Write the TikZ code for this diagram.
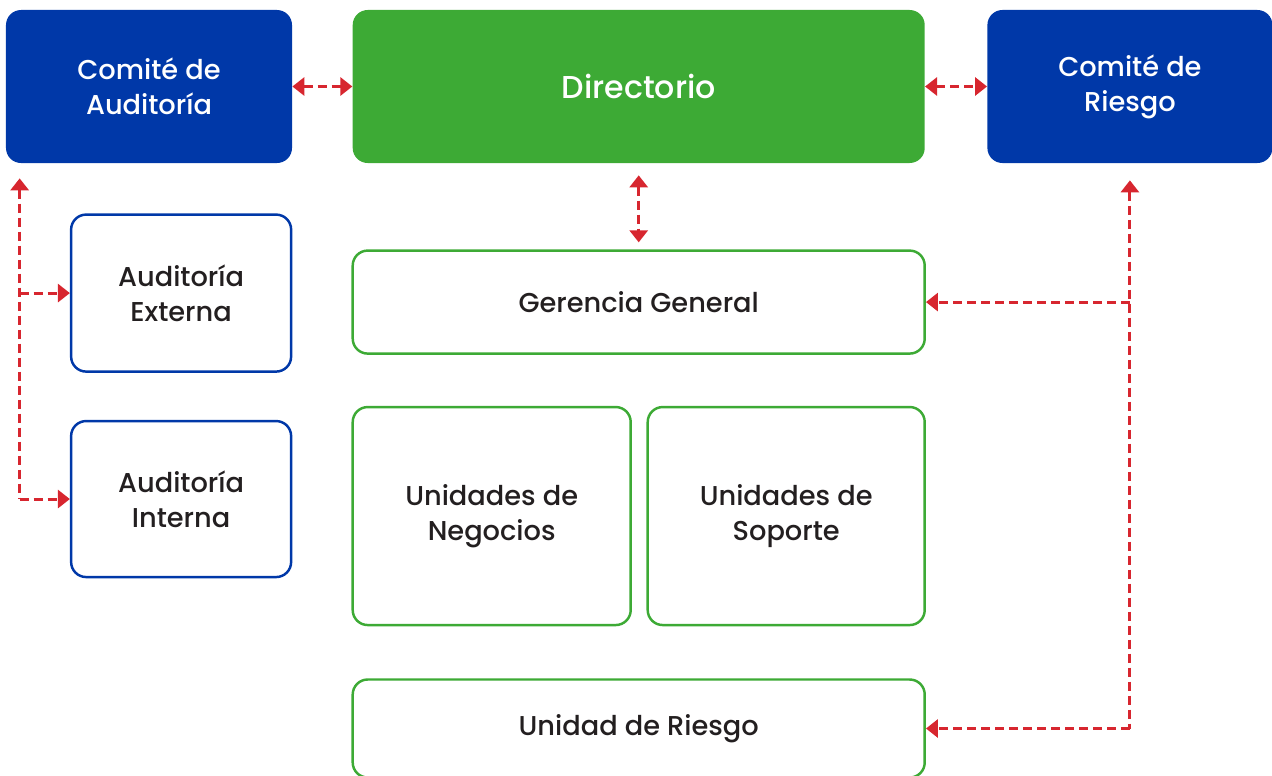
\documentclass[tikz,border=0pt]{standalone}
\usepackage{fontspec}
\setmainfont{Poppins Medium}
\usetikzlibrary{positioning,arrows.meta,calc}

\definecolor{azul}{HTML}{0038A8}
\definecolor{verde}{HTML}{3DAA35}
\definecolor{rojo}{HTML}{D7262F}
\definecolor{texto}{HTML}{231F20}

\tikzset{
  caja/.style={rounded corners=0.3cm, align=center, inner sep=0pt,
    font=\fontsize{15.5}{20}\selectfont, text=texto},
  comite/.style={caja, fill=azul, text=white},
  direc/.style={caja, fill=verde, text=white, font=\fontsize{18}{20}\selectfont},
  auditoria/.style={caja, draw=azul, line width=1.4pt, fill=white},
  gestion/.style={caja, draw=verde, line width=1.4pt, fill=white},
  punta/.tip={Triangle[length=0.24cm,width=0.36cm]},
  enlace/.style={rojo, line width=1.7pt, dash pattern=on 0.18cm off 0.1cm, -punta},
  doble/.style={enlace, punta-punta},
}

\begin{document}
\begin{tikzpicture}
\useasboundingbox (0,0) rectangle (25.44,-15.5);

% fila superior
\node[comite, minimum width=5.72cm, minimum height=3.06cm] (caud) at (2.98,-1.73) {Comité de\\Auditoría};
\node[direc, minimum width=11.44cm, minimum height=3.06cm, right=1.2cm of caud] (dir) {Directorio};
\node[comite, minimum width=5.7cm, minimum height=3.06cm, right=1.24cm of dir] (criesgo) {Comité de\\Riesgo};

% auditorias
\node[auditoria, minimum width=4.4cm, minimum height=3.14cm, below left=1.0cm and 0cm of caud.south east, anchor=north east] (audext) {Auditoría\\Externa};
\node[auditoria, minimum width=4.4cm, minimum height=3.12cm, below=0.94cm of audext] (audint) {Auditoría\\Interna};

% gerencia y unidades
\node[gestion, minimum width=11.44cm, minimum height=2.06cm, below=1.72cm of dir] (gerencia) {Gerencia General};
\node[gestion, minimum width=5.56cm, minimum height=4.36cm, below=1.02cm of gerencia.south west, anchor=north west] (unegocios) {Unidades de\\Negocios};
\node[gestion, minimum width=5.54cm, minimum height=4.36cm, below=1.02cm of gerencia.south east, anchor=north east] (usoporte) {Unidades de\\Soporte};
\node[gestion, minimum width=11.44cm, minimum height=1.96cm, below=1.04cm of unegocios.south west, anchor=north west] (uriesgo) {Unidad de Riesgo};

% extremos libres
\coordinate (la) at ($(caud.south west)+(0.28,-0.3)$);
\coordinate (ra) at ($(criesgo.south)+(0,-0.34)$);

% enlaces
\draw[doble] (caud) -- (dir);
\draw[doble] (dir) -- (criesgo);
\draw[doble, shorten <=0.24cm, shorten >=0.14cm] (dir.south) -- (gerencia.north);
\draw[enlace, punta-] (la) -- (la |- audint.west);
\draw[enlace] (la |- audext.west) -- (audext.west);
\draw[enlace] (la |- audint.west) -- (audint.west);
\draw[enlace, punta-] (ra) -- (ra |- uriesgo.east);
\draw[enlace] (ra |- gerencia.east) -- (gerencia.east);
\draw[enlace] (ra |- uriesgo.east) -- (uriesgo.east);
\end{tikzpicture}
\end{document}
